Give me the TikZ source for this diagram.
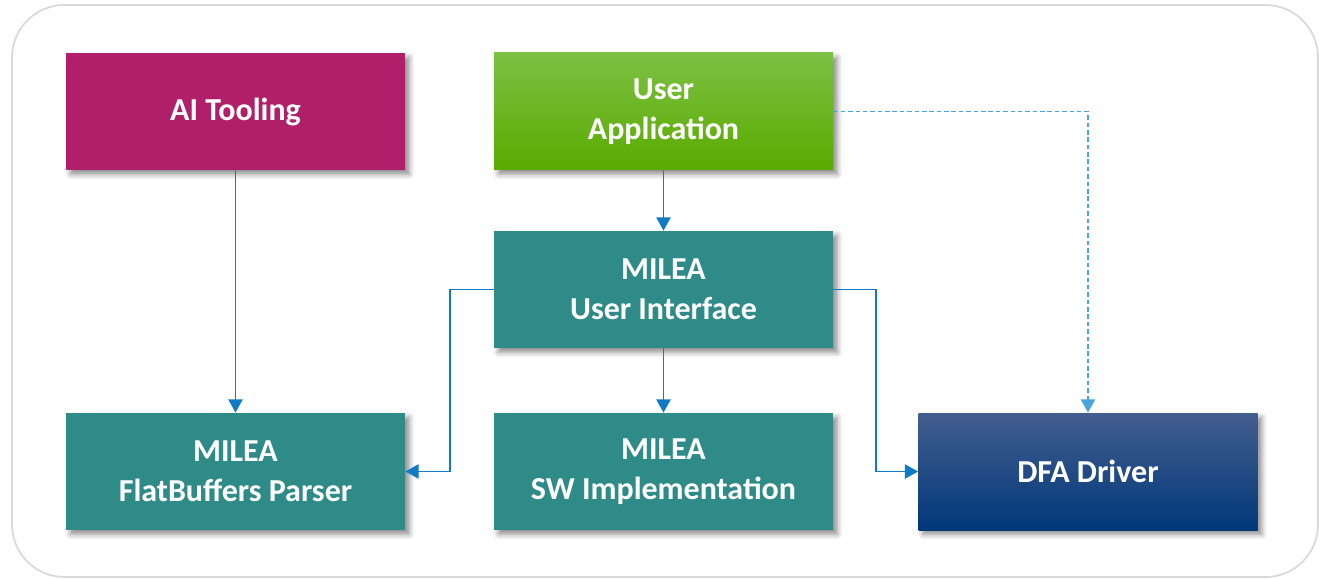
\documentclass[tikz,border=0pt]{standalone}
\usepackage{fontspec}
\setmainfont{Carlito}
\usetikzlibrary{arrows.meta,shadows.blur}

\definecolor{aimagenta}{RGB}{176,31,106}
\definecolor{appgreentop}{RGB}{124,193,68}
\definecolor{appgreenmid}{RGB}{102,185,20}
\definecolor{appgreenbot}{RGB}{90,170,0}
\definecolor{mileateal}{RGB}{46,139,135}
\definecolor{dfatop}{RGB}{68,94,142}
\definecolor{dfamid}{RGB}{10,62,125}
\definecolor{dfabot}{RGB}{0,56,122}
\definecolor{linkblue}{RGB}{16,122,196}
\definecolor{dashblue}{RGB}{74,163,221}
\definecolor{frame}{RGB}{217,217,217}

\tikzset{
    block/.style={minimum width=6.78cm, minimum height=2.34cm, inner sep=0pt,
        align=center, text=white, font=\fontsize{18.2}{22.7}\selectfont\bfseries,
        blur shadow={shadow xshift=2.5pt, shadow yshift=-2.5pt, shadow blur radius=3pt, shadow opacity=45}},
    link/.style={draw=linkblue, line width=1.1pt, -{Triangle[length=7.5pt,width=8pt]}},
    dashlink/.style={link, draw=dashblue, dash pattern=on 2.6pt off 1.6pt}
}

\begin{document}
\begin{tikzpicture}
    \useasboundingbox (0,0) rectangle (26.5,-11.58);
    % outer frame
    \draw[frame, line width=1pt, rounded corners=1.05cm] (0.24,-0.1) rectangle (26.36,-11.54);

    % boxes
    \node[block, fill=aimagenta] (ai) at (4.71,-2.23) {AI Tooling};
    \node[block, top color=appgreentop, middle color=appgreenmid, bottom color=appgreenbot] (app) at (13.27,-2.23) {User\\Application};
    \node[block, fill=mileateal] (ui) at (13.27,-5.79) {MILEA\\User Interface};
    \node[block, fill=mileateal] (fb) at (4.71,-9.43) {MILEA\\FlatBuffers Parser};
    \node[block, fill=mileateal] (sw) at (13.27,-9.43) {MILEA\\SW Implementation};
    \node[block, top color=dfatop, middle color=dfamid, bottom color=dfabot] (dfa) at (21.76,-9.43) {DFA Driver};

    % connectors
    \draw[link] (ai) -- (fb);
    \draw[link] (app) -- (ui);
    \draw[link] (ui) -- (sw);
    \draw[link] (ui.west) -- ++(-0.88,0) |- (fb.east);
    \draw[link] (ui.east) -- ++(0.86,0) |- (dfa.west);
    \draw[dashlink] (app.east) -| (dfa.north);
\end{tikzpicture}
\end{document}
